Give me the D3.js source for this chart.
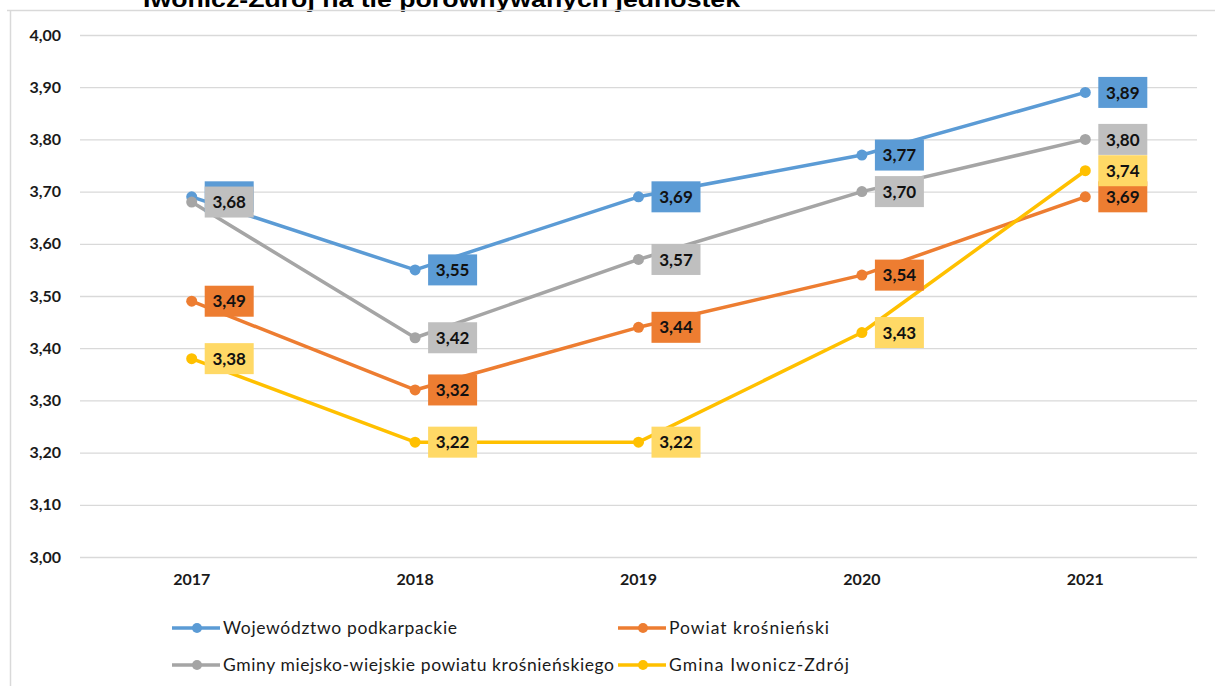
<!DOCTYPE html>
<html>
<head>
<meta charset="utf-8">
<script src="https://cdn.jsdelivr.net/npm/d3@7"></script>
<style>
  html, body { margin: 0; padding: 0; background: #fff; }
  svg { display: block; }
</style>
</head>
<body>
<svg id="chart" width="1215" height="686"></svg>
<script>
// Years on the horizontal axis
const years = ["2017", "2018", "2019", "2020", "2021"];

// Series names (legend order)
const seriesNames = [
  "Województwo podkarpackie",
  "Powiat krośnieński",
  "Gminy miejsko-wiejskie powiatu krośnieńskiego",
  "Gmina Iwonicz-Zdrój"
];

// Values per series
const wojewodztwo = [3.69, 3.55, 3.69, 3.77, 3.89];
const powiat      = [3.49, 3.32, 3.44, 3.54, 3.69];
const gminyMW     = [3.68, 3.42, 3.57, 3.70, 3.80];
const iwonicz     = [3.38, 3.22, 3.22, 3.43, 3.74];

// Y axis ticks
const yTicks = [3.0, 3.1, 3.2, 3.3, 3.4, 3.5, 3.6, 3.7, 3.8, 3.9, 4.0];

const titleText = "Iwonicz-Zdrój na tle porównywanych jednostek";

const lineColors  = ["#5B9BD5", "#ED7D31", "#A5A5A5", "#FFC000"];
const labelColors = ["#5B9BD5", "#ED7D31", "#BFBFBF", "#FFD966"];

const series = [wojewodztwo, powiat, gminyMW, iwonicz].map((vals, i) => ({
  name: seriesNames[i],
  line: lineColors[i],
  label: labelColors[i],
  values: vals.map((v, j) => ({ year: years[j], value: v }))
}));

const svg = d3.select("#chart");
const FONT = "Lato, 'Open Sans', sans-serif";
const fmt = v => d3.format(".2f")(v).replace(".", ",");

// Plot area
const plotLeft = 80, plotRight = 1197, plotTop = 35, plotBottom = 557;

const x = d3.scaleBand().domain(years).range([plotLeft, plotRight]);
const cx = d => x(d) + x.bandwidth() / 2;
const y = d3.scaleLinear().domain([3, 4]).range([plotBottom, plotTop]);

// Title (partially clipped at the top edge)
svg.append("text")
  .attr("x", 143).attr("y", 7)
  .attr("font-family", "'Liberation Sans', Arial, sans-serif")
  .attr("font-weight", "bold")
  .attr("font-size", 22)
  .attr("textLength", 597)
  .attr("lengthAdjust", "spacingAndGlyphs")
  .attr("fill", "#000")
  .text(titleText);

// Chart frame
svg.append("line").attr("x1", 7).attr("x2", 1215).attr("y1", 10.5).attr("y2", 10.5)
  .attr("stroke", "#d9d9d9").attr("stroke-width", 1.5);
svg.append("line").attr("x1", 10.5).attr("x2", 10.5).attr("y1", 10).attr("y2", 686)
  .attr("stroke", "#d9d9d9").attr("stroke-width", 1.5);

// Y axis with gridlines
const yAxis = d3.axisLeft(y)
  .tickValues(yTicks)
  .tickSize(-(plotRight - plotLeft))
  .tickPadding(19)
  .tickFormat(fmt);

const gy = svg.append("g").attr("transform", `translate(${plotLeft},0)`).call(yAxis);
gy.select(".domain").remove();
gy.selectAll(".tick line").attr("stroke", "#d9d9d9").attr("stroke-width", 1.3);
gy.selectAll(".tick text")
  .attr("font-family", FONT).attr("font-weight", "bold")
  .attr("font-size", 16).attr("fill", "#1a1a1a");

// X axis labels
const xAxis = d3.axisBottom(x).tickSize(0).tickPadding(17);
const gx = svg.append("g").attr("transform", `translate(0,${plotBottom})`).call(xAxis);
gx.select(".domain").remove();
gx.selectAll(".tick text")
  .attr("font-family", FONT).attr("font-weight", "bold")
  .attr("font-size", 16).attr("fill", "#1a1a1a");

// Lines and markers
const lineGen = d3.line().x(d => cx(d.year)).y(d => y(d.value));

const gSeries = svg.append("g");
series.forEach(s => {
  gSeries.append("path")
    .attr("d", lineGen(s.values))
    .attr("fill", "none")
    .attr("stroke", s.line)
    .attr("stroke-width", 3.5)
    .attr("stroke-linejoin", "round");
  gSeries.selectAll(null)
    .data(s.values)
    .enter().append("circle")
    .attr("cx", d => cx(d.year))
    .attr("cy", d => y(d.value))
    .attr("r", 5.5)
    .attr("fill", s.line);
});

// Data labels (boxes right of each point)
const boxW = 49, boxH = 31, boxOff = 13;
const gLabels = svg.append("g");
series.forEach(s => {
  const g = gLabels.selectAll(null).data(s.values).enter().append("g")
    .attr("transform", d => `translate(${cx(d.year) + boxOff},${y(d.value)})`);
  g.append("rect")
    .attr("x", 0).attr("y", -boxH / 2)
    .attr("width", boxW).attr("height", boxH)
    .attr("fill", s.label);
  g.append("text")
    .attr("x", boxW / 2).attr("y", 0)
    .attr("dy", "0.36em")
    .attr("text-anchor", "middle")
    .attr("font-family", FONT).attr("font-weight", "bold")
    .attr("font-size", 17).attr("fill", "#111")
    .text(d => fmt(d.value));
});

// Legend
const legendPos = [
  { lx: 172, ly: 628 },
  { lx: 618, ly: 628 },
  { lx: 172, ly: 665 },
  { lx: 618, ly: 665 }
];
const legendWidths = [234, 160, 391, 180];
const gLegend = svg.append("g");
series.forEach((s, i) => {
  const p = legendPos[i];
  const g = gLegend.append("g").attr("transform", `translate(${p.lx},${p.ly})`);
  g.append("line").attr("x1", 0).attr("x2", 48).attr("y1", 0).attr("y2", 0)
    .attr("stroke", s.line).attr("stroke-width", 3.5);
  g.append("circle").attr("cx", 25).attr("cy", 0).attr("r", 5).attr("fill", s.line);
  g.append("text")
    .attr("x", 51).attr("y", 0).attr("dy", "0.35em")
    .attr("font-family", FONT).attr("font-size", 17.5).attr("fill", "#1a1a1a")
    .attr("textLength", legendWidths[i])
    .attr("lengthAdjust", "spacing")
    .text(s.name);
});
</script>
</body>
</html>
